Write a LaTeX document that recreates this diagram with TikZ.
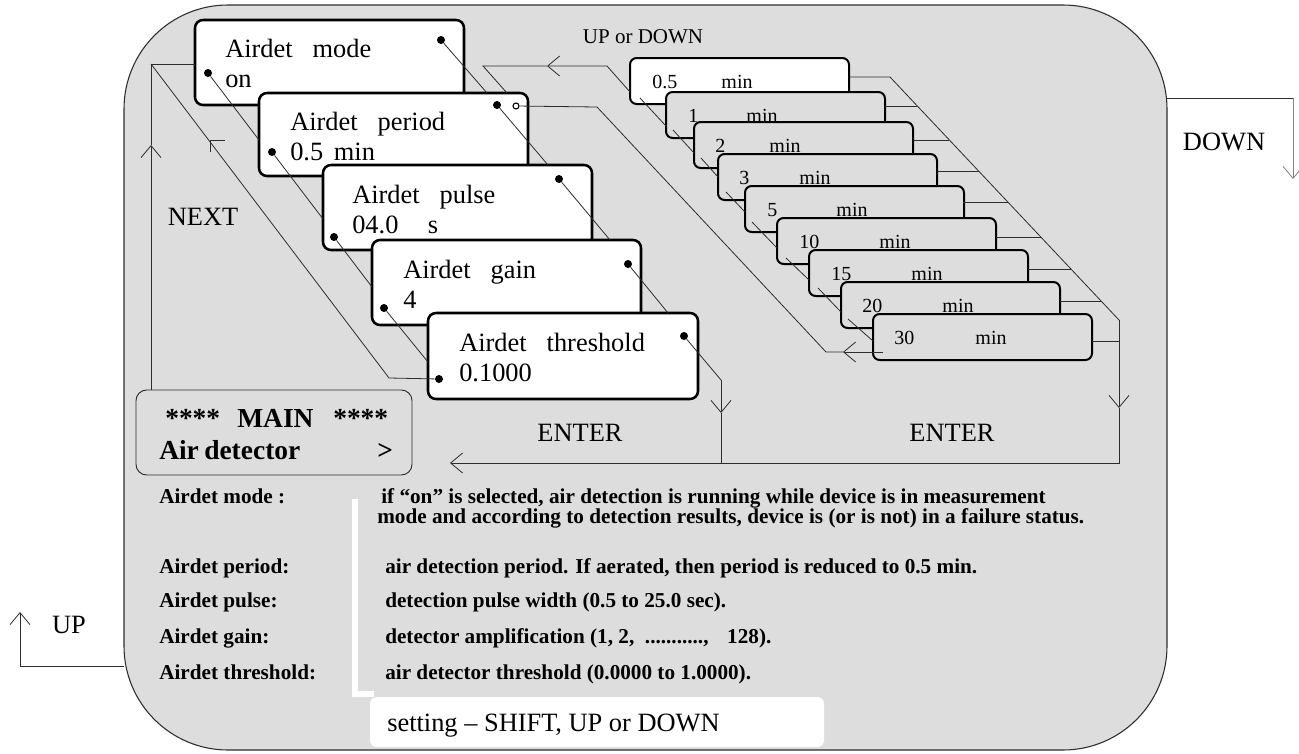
\documentclass[tikz,border=0pt]{standalone}
\usepackage{fontspec}
\setmainfont{Liberation Serif}
\usetikzlibrary{arrows.meta}
\definecolor{bg}{RGB}{221,221,221}
\definecolor{lnc}{RGB}{45,45,45}
\begin{document}
\begin{tikzpicture}[x=0.75pt,y=-0.75pt,
  card/.style={draw=black,line width=1.9pt,fill=white,rounded corners=6pt,inner sep=0pt,outer sep=0pt,minimum width=201.75pt,minimum height=63.75pt,anchor=north west},
  scard/.style={draw=black,line width=1.5pt,fill=bg,rounded corners=5pt,inner sep=0pt,outer sep=0pt,minimum width=164.25pt,minimum height=34.5pt,anchor=north west},
  wcard/.style={scard,fill=white},
  dot/.style={circle,fill=black,inner sep=0pt,minimum size=6pt},
  odot/.style={circle,draw=black,fill=white,line width=0.8pt,inner sep=0pt,minimum size=4.5pt},
  ln/.style={draw=lnc,line width=0.6pt},
  barb/.style={-{Straight Barb[length=9pt,width=15pt]}},
  lbl/.style={inner sep=0pt,anchor=base west,font=\fontsize{19.8pt}{24pt}\selectfont},
  clbl/.style={lbl,anchor=base},
  st/.style={inner sep=0pt,anchor=base west,font=\fontsize{15pt}{18pt}\selectfont},
  stm/.style={st,anchor=base},
  desc/.style={inner sep=0pt,anchor=base west,font=\fontsize{15.9pt}{19pt}\selectfont\bfseries},
  mainf/.style={inner sep=0pt,anchor=base west,font=\fontsize{20.6pt}{24pt}\selectfont\bfseries}
]
\useasboundingbox (0,0) rectangle (1299,753);
\fill[white] (0,0) rectangle (1299,753);
% background panel
\draw[draw=lnc,fill=bg,line width=0.8pt,rounded corners=78pt] (124,5) rectangle (1167,750);

% DOWN / UP exits
\coordinate (dn1) at (1167,98); \coordinate (dn2) at (1293,98); \coordinate (dn3) at (1293,179);
\draw[ln] (dn1) -- (dn2);
\draw[ln,draw=gray,barb] (dn2) -- (dn3);
\node[clbl] (downl) at (1224,150) {DOWN};
\coordinate (up1) at (124,666); \coordinate (up2) at (20,666); \coordinate (up3) at (20,612);
\draw[ln] (up1) -- (up2);
\draw[ln,barb] (up2) -- (up3);
\node[clbl] (upl) at (69,633) {UP};

% main menu cards
\node[card] (c1) at (195,20) {};
\node[lbl] (t1a) at (225,57) {Airdet\hspace{15pt}mode};
\node[lbl] (t1b) at (225,87) {on};
\node[dot] (d1r) at (441,40) {};
\node[dot] (d1l) at (208,73) {};

\node[card,minimum height=62.25pt] (c2) at (259,93) {};
\node[lbl] (t2a) at (290,130) {Airdet\hspace{15pt}period};
\node[lbl] (t2b) at (290,160) {0.5\hspace{8pt}min};
\node[dot] (d2r) at (497,105) {};
\node[odot] (h2) at (516,106) {};
\node[dot] (d2l) at (272,152) {};

\node[card] (c3) at (323,165) {};
\node[lbl] (t3a) at (352,203) {Airdet\hspace{15pt}pulse};
\node[lbl] (t3b) at (352,233) {04.0\hspace{22pt}s};
\node[dot] (d3r) at (559,179) {};
\node[dot] (d3l) at (334,237) {};

\node[card] (c4) at (372,240) {};
\node[lbl] (t4a) at (403,278) {Airdet\hspace{15pt}gain};
\node[lbl] (t4b) at (403,308) {4};
\node[dot] (d4r) at (628,264) {};
\node[dot] (d4l) at (384,308) {};

\node[card,minimum width=202.5pt,minimum height=64.5pt] (c5) at (428,313) {};
\node[lbl] (t5a) at (459,351) {Airdet\hspace{15pt}threshold};
\node[lbl] (t5b) at (459,381) {0.1000};
\node[dot] (d5r) at (684,336) {};
\node[dot] (d5l) at (439,379) {};

% value stack
\node[wcard] (k1) at (630,58) {};
\node[st] (n1) at (652,88) {0.5}; \node[stm] (m1) at (737,88) {min};
\node[scard] (k2) at (666,92) {};
\node[st] (n2) at (688,122) {1}; \node[stm] (m2) at (762,122) {min};
\node[scard] (k3) at (694,122) {};
\node[st] (n3) at (715,152) {2}; \node[stm] (m3) at (785,152) {min};
\node[scard] (k4) at (718,154) {};
\node[st] (n4) at (739,184) {3}; \node[stm] (m4) at (815,184) {min};
\node[scard] (k5) at (745,186) {};
\node[st] (n5) at (767,216) {5}; \node[stm] (m5) at (852,216) {min};
\node[scard] (k6) at (777,218) {};
\node[st] (n6) at (799,248) {10}; \node[stm] (m6) at (895,248) {min};
\node[scard] (k7) at (809,250) {};
\node[st] (n7) at (831,280) {15}; \node[stm] (m7) at (927,280) {min};
\node[scard] (k8) at (841,282) {};
\node[st] (n8) at (862,312) {20}; \node[stm] (m8) at (958,312) {min};
\node[scard] (k9) at (873,314) {};
\node[st] (n9) at (894,344) {30}; \node[stm] (m9) at (991,344) {min};

% card-to-card links (main cards)
\coordinate (c2top) at (487,93); \coordinate (c3top) at (548,165);
\coordinate (c4top) at (610,240); \coordinate (c5top) at (668,313);
\coordinate (c2lft) at (259,140); \coordinate (c3lft) at (323,219);
\coordinate (c4lft) at (372,287); \coordinate (c5lft) at (428,362);
\draw[ln] (d1r) -- (c2top);
\draw[ln] (d2r) -- (c3top);
\draw[ln] (d3r) -- (c4top);
\draw[ln] (d4r) -- (c5top);
\draw[ln] (d1l) -- (c2lft);
\draw[ln] (d2l) -- (c3lft);
\draw[ln] (d3l) -- (c4lft);
\draw[ln] (d4l) -- (c5lft);

% card-to-card links (value stack)
\draw[ln] (640,98) -- (666,126);
\draw[ln] (673,130) -- (694,153);
\draw[ln] (701,158) -- (718,177);
\draw[ln] (726,192) -- (745,212);
\draw[ln] (752,222) -- (777,248);
\draw[ln] (786,258) -- (809,280);
\draw[ln] (818,288) -- (841,312);
\draw[ln] (848,319) -- (873,341);

% NEXT loop
\coordinate (nx1) at (151,64); \coordinate (nx2) at (389,378);
\coordinate (nxt) at (151,145); \coordinate (mtop) at (151,390);
\coordinate (c1lft) at (195,64);
\draw[ln,barb] (mtop) -- (nxt);
\draw[ln] (nxt) -- (nx1) -- (c1lft);
\draw[ln] (nx1) -- (nx2) -- (d5l);
\draw[ln] (210,152) -- (210,140) -- (225,140);
\node[clbl] (nextl) at (203,225) {NEXT};

% UP or DOWN return
\coordinate (ud1) at (630,92); \coordinate (ud2) at (607,66);
\coordinate (udt) at (547,66); \coordinate (ud3) at (483,66); \coordinate (ud4) at (507,93);
\draw[ln,barb] (ud1) -- (ud2) -- (udt);
\draw[ln] (udt) -- (ud3) -- (ud4);
\node[inner sep=0pt,anchor=base,font=\fontsize{15.75pt}{18pt}\selectfont] (udl) at (643,43) {UP or DOWN};

% period value link
\coordinate (pv1) at (597,107); \coordinate (pv2) at (826,352);
\coordinate (pvt) at (843,352); \coordinate (pv3) at (883,352);
\draw[ln,barb] (pv3) -- (pvt);
\draw[ln] (pvt) -- (pv2) -- (pv1) -- (h2);

% right bus of value stack
\coordinate (rb1) at (890,77); \coordinate (rb2) at (1119,320);
\coordinate (rbt) at (1119,408); \coordinate (rb3) at (1119,463);
\coordinate (bl) at (450,463);
\draw[ln] (849,77) -- (rb1) -- (rb2);
\draw[ln] (885,106) -- (917,106);
\draw[ln] (913,140) -- (949,140);
\draw[ln] (937,171) -- (979,171);
\draw[ln] (963,202) -- (1008,202);
\draw[ln] (996,237) -- (1041,237);
\draw[ln] (1028,269) -- (1071,269);
\draw[ln] (1060,301) -- (1101,301);
\draw[ln] (1092,341) -- (1119,341);
\draw[ln,barb] (rb2) -- (rbt);
\draw[ln,barb] (rbt) -- (rb3) -- (bl);

% ENTER from threshold
\coordinate (e1) at (721,380); \coordinate (e1t) at (721,413); \coordinate (e1b) at (721,463);
\draw[ln] (d5r) -- (e1);
\draw[ln,barb] (e1) -- (e1t);
\draw[ln] (e1t) -- (e1b);
\node[clbl] (ent1) at (580,441) {ENTER};
\node[clbl] (ent2) at (952,441) {ENTER};

% MAIN box
\node[draw=lnc,line width=0.7pt,fill=bg,rounded corners=8pt,inner sep=0pt,outer sep=0pt,
      minimum width=207pt,minimum height=63.75pt,anchor=north west] (mainbox) at (136,390) {};
\node[mainf] (ma1) at (165,427) {****};
\node[mainf] (ma2) at (237,427) {MAIN};
\node[mainf] (ma3) at (333,427) {****};
\node[mainf] (ma4) at (159,459) {Air\hspace{4pt}detector};
\node[mainf] (ma5) at (377,459) {>};

% descriptions
\fill[white] (352,499) rectangle (358,697);
\fill[white] (352,691) rectangle (374,697);
\fill[white,rounded corners=5pt] (370,697) rectangle (824,747);
\node[lbl] (setl) at (387,731) {setting -- SHIFT, UP or DOWN};

\node[desc] (l1) at (159,503) {Airdet mode :};
\node[desc] (l2) at (159,573) {Airdet period:};
\node[desc] (l3) at (159,607) {Airdet pulse:};
\node[desc] (l4) at (159,643) {Airdet gain:};
\node[desc] (l5) at (159,679) {Airdet threshold:};
\node[desc] (r1a) at (381,503) {if “on” is selected, air detection is running while device is in measurement};
\node[desc] (r1b) at (377,523) {mode and according to detection results, device is (or is not) in a failure status.};
\node[desc] (r2) at (385,573) {air detection period. If aerated, then period is reduced to 0.5 min.};
\node[desc] (r3) at (385,607) {detection pulse width (0.5 to 25.0 sec).};
\node[desc] (r4) at (385,643) {detector amplification (1, 2,\hspace{8pt}...........,\hspace{14pt}128).};
\node[desc] (r5) at (385,679) {air detector threshold (0.0000 to 1.0000).};
\end{tikzpicture}
\end{document}
